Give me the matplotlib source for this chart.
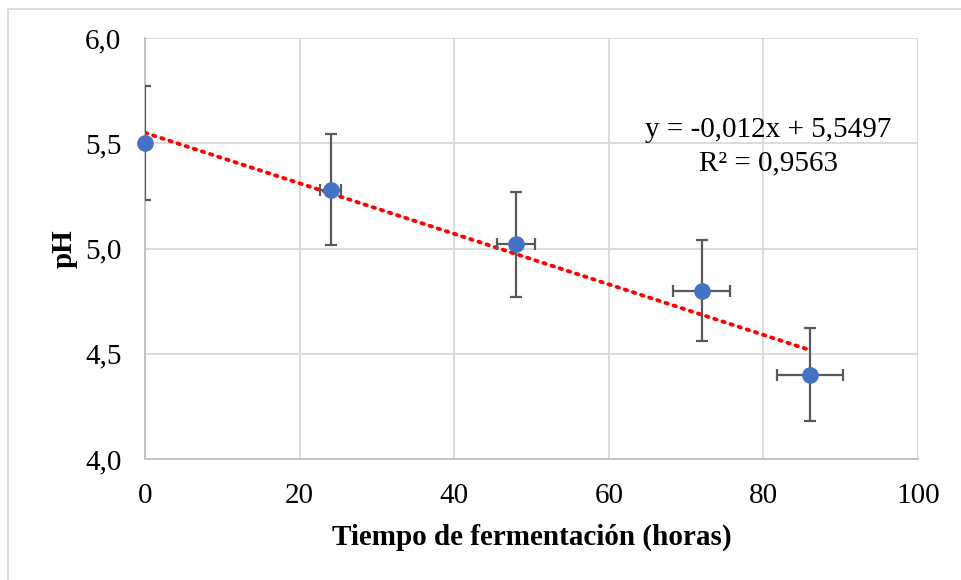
import numpy as np
import matplotlib.pyplot as plt
from matplotlib.lines import Line2D

plt.rcParams['font.family'] = ['Liberation Serif', 'DejaVu Serif']

tiempo = [0, 24, 48, 72, 86]
ph = [5.50, 5.28, 5.02, 4.80, 4.40]
ph_err = [0.27, 0.265, 0.25, 0.24, 0.22]
tiempo_err = [0, 1.3, 2.4, 3.7, 4.3]

slope = -0.012
intercept = 5.5497
r2 = 0.9563

fig = plt.figure(figsize=(9.61, 5.80), dpi=100)
ax = fig.add_axes([145/961, 1-459/580, (918-145)/961, (459-38)/580])

# borde exterior (solo se ven el lado izquierdo y el de arriba)
fig.lines.append(Line2D([8/961, 8/961, 1], [0, 1-9/580, 1-9/580], transform=fig.transFigure,
                        color="#d9d9d9", linewidth=1.3))

ax.set_xlim(0, 100)
ax.set_ylim(4.0, 6.0)
ax.set_xticks([0, 20, 40, 60, 80, 100])
ax.set_yticks([4.0, 4.5, 5.0, 5.5, 6.0])
ax.set_yticklabels(["4,0", "4,5", "5,0", "5,5", "6,0"])
ax.grid(True, color="#d9d9d9", linewidth=1.3)
ax.set_axisbelow(True)
for s in ["top", "right"]:
    ax.spines[s].set_visible(False)
for s in ["left", "bottom"]:
    ax.spines[s].set_color("#bfbfbf")
    ax.spines[s].set_linewidth(1.3)
ax.tick_params(length=0, labelsize=21)
ax.tick_params(axis="y", pad=17)
ax.tick_params(axis="x", pad=17)

xt = np.array([min(tiempo), max(tiempo)])
ax.plot(xt, slope*xt + intercept, color="red", linestyle=(0, (0.6, 1.6)), linewidth=2.8,
        dash_capstyle="round", zorder=2)

ax.errorbar(tiempo, ph, yerr=ph_err, xerr=tiempo_err, fmt="none", ecolor="#595959",
            elinewidth=1.6, capsize=4.5, capthick=1.6, zorder=3)
ax.plot(tiempo, ph, "o", color="#4472C4", markersize=11, zorder=4, clip_on=False)

ax.text(0.806, 0.781, "y = -0,012x + 5,5497", transform=ax.transAxes, ha="center",
        va="center", fontsize=21)
ax.text(0.806, 0.703, "R² = 0,9563", transform=ax.transAxes, ha="center",
        va="center", fontsize=21)

ax.set_xlabel("Tiempo de fermentación (horas)", fontsize=21, fontweight="bold", labelpad=11)
ax.set_ylabel("pH", fontsize=21, fontweight="bold", labelpad=5)

fig.savefig("out.png", dpi=100)
